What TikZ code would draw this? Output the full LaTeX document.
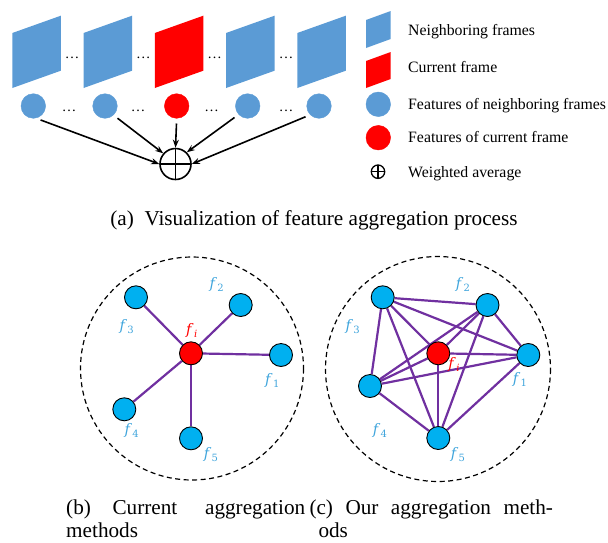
\documentclass[tikz,border=0pt]{standalone}
\usepackage{fontspec}
\setmainfont{Liberation Serif}
\newfontfamily\lblfont{DejaVu Serif}
\usetikzlibrary{arrows.meta}
\definecolor{fblue}{HTML}{5B9BD5}
\definecolor{fred}{HTML}{FF0000}
\definecolor{ncyan}{HTML}{00B0F0}
\definecolor{epurple}{HTML}{7030A0}
\definecolor{lblue}{RGB}{64,165,220}
\pgfdeclarelayer{bg}
\pgfsetlayers{bg,main}
\newcommand{\fsub}[1]{\textit{f}\kern0.3pt\raisebox{-3pt}{\fontsize{10}{10}\selectfont #1}}
\tikzset{
 feat/.style={circle, fill=fblue, draw=fblue, minimum size=24.6pt, inner sep=0pt},
 featcur/.style={feat, fill=fred, draw=fred},
 gnode/.style={circle, fill=ncyan, draw=black, line width=0.9pt, minimum size=23pt, inner sep=0pt},
 gcur/.style={gnode, fill=fred},
 gedge/.style={draw=epurple, line width=2.2pt},
 lbl/.style={text=lblue, font=\lblfont\fontsize{14.5}{14.5}\selectfont, inner sep=0pt},
 lblcur/.style={lbl, text=fred},
 arr/.style={line width=1.6pt, -{Stealth[length=8pt,width=6pt]}, shorten <=5pt},
 legtxt/.style={anchor=base west, inner sep=0pt, font=\fontsize{15.8}{19}\selectfont},
 captxt/.style={inner sep=0pt, font=\fontsize{21.2}{26}\selectfont},
 dotstxt/.style={inner sep=0pt, font=\fontsize{14.5}{14.5}\selectfont},
 wavg/.style={circle, draw=black, inner sep=0pt, path picture={
   \draw (path picture bounding box.north) -- (path picture bounding box.south)
         (path picture bounding box.west) -- (path picture bounding box.east);}},
 ring/.style={draw=black, line width=1.2pt, dash pattern=on 5pt off 3.5pt},
}
\begin{document}
\begin{tikzpicture}[x=1pt,y=-1pt]
\useasboundingbox (0,0) rectangle (608,542);
% frames
\foreach \i/\c in {0/fblue,1/fblue,2/fred,3/fblue,4/fblue}{
  \fill[\c] ({12.3+71.25*\i},88) -- ++(0,-55) -- ++(48.5,-17.3) -- ++(0,55) -- cycle;
}
\foreach \x in {72.2,143.4,214.7,286}{
  \node[dotstxt] at (\x,58.3) {…};
}
% features
\node[feat] (ft1) at (33.3,106) {};
\node[feat] (ft2) at (105,106) {};
\node[featcur] (ft3) at (176.7,106) {};
\node[feat] (ft4) at (247.7,106) {};
\node[feat] (ft5) at (319,106) {};
\foreach \x in {69,138,211.7,286}{
  \node[dotstxt] at (\x,111) {…};
}
\node[wavg, line width=1.6pt, minimum size=31pt] (op) at (175.5,164) {};
\draw[arr] (ft1.-78) -- (op.180);
\draw[arr] (ft2.-47) -- (op.139);
\draw[arr] (ft3.-90) -- (op.90);
\draw[arr] (ft4.-137) -- (op.46);
\draw[arr] (ft5.-135) -- (op.0);
% legend
\fill[fblue] (366,48) -- (366,20) -- (390.7,11) -- (390.7,39) -- cycle;
\fill[fred] (366,88) -- (366,61) -- (390.7,52) -- (390.7,79) -- cycle;
\node[feat] (lf) at (378.3,104.3) {};
\node[featcur] (lfc) at (378.3,137.7) {};
\node[wavg, line width=1.3pt, minimum size=13.4pt] (lop) at (378,171.7) {};
\node[legtxt] (t1) at (408,35) {Neighboring frames};
\node[legtxt] (t2) at (408,72.7) {Current frame};
\node[legtxt] (t3) at (408,109.3) {Features of neighboring frames};
\node[legtxt] (t4) at (408,142.7) {Features of current frame};
\node[legtxt] (t5) at (408,177) {Weighted average};
% caption a
\node[captxt, anchor=base] (capa) at (314,225) {(a)\hspace{0.5em}Visualization of feature aggregation process};
% graph b
\draw[ring] (192,368.5) circle (111.5);
\node[gcur] (bi) at (191,353.3) {};
\node[gnode] (b1) at (281,355) {};
\node[gnode] (b2) at (240.7,305) {};
\node[gnode] (b3) at (136,297.3) {};
\node[gnode] (b4) at (124.3,409.3) {};
\node[gnode] (b5) at (191,438.3) {};
\begin{pgfonlayer}{bg}
\foreach \n in {b1,b2,b3,b4,b5}{ \draw[gedge] (bi) -- (\n); }
\end{pgfonlayer}
\node[lblcur] (lbi) at (191.7,330) {\fsub{\textit{i}}};
\node[lbl] (lb1) at (272.3,380.7) {\fsub{1}};
\node[lbl] (lb2) at (216.7,284) {\fsub{2}};
\node[lbl] (lb3) at (126.7,326.7) {\fsub{3}};
\node[lbl] (lb4) at (131.7,430) {\fsub{4}};
\node[lbl] (lb5) at (211,455) {\fsub{5}};
% graph c
\draw[ring] (438,369) circle (112.5);
\node[gcur] (ci) at (438.3,353.3) {};
\node[gnode] (cc1) at (528.3,355) {};
\node[gnode] (cc2) at (487.5,305) {};
\node[gnode] (cc3) at (382.7,297.3) {};
\node[gnode] (cc4) at (370,386) {};
\node[gnode] (cc5) at (438.3,438) {};
\begin{pgfonlayer}{bg}
\foreach \a/\b in {ci/cc1,ci/cc2,ci/cc3,ci/cc4,ci/cc5,cc1/cc2,cc1/cc3,cc1/cc4,cc1/cc5,cc2/cc3,cc2/cc4,cc2/cc5,cc3/cc4,cc3/cc5,cc4/cc5}{ \draw[gedge] (\a) -- (\b); }
\end{pgfonlayer}
\node[lblcur] (lci) at (454,364.5) {\fsub{\textit{i}}};
\node[lbl] (lc1) at (520,379) {\fsub{1}};
\node[lbl] (lc2) at (463,284) {\fsub{2}};
\node[lbl] (lc3) at (352.7,326.7) {\fsub{3}};
\node[lbl] (lc4) at (380,430.7) {\fsub{4}};
\node[lbl] (lc5) at (458,454.5) {\fsub{5}};
% captions b, c
\node[captxt, anchor=base west] (capb1) at (66,514) {\makebox[239pt][s]{(b)\hspace{0pt plus 0.78fil}Current\hspace{0pt plus 1fil}aggregation}};
\node[captxt, anchor=base west] (capb2) at (66,537.5) {methods};
\node[captxt, anchor=base west] (capc1) at (309.3,514) {\makebox[243.5pt][s]{(c)\hfill Our\hfill aggregation\hfill meth-}};
\node[captxt, anchor=base west] (capc2) at (318.3,537.5) {ods};
\end{tikzpicture}
\end{document}
